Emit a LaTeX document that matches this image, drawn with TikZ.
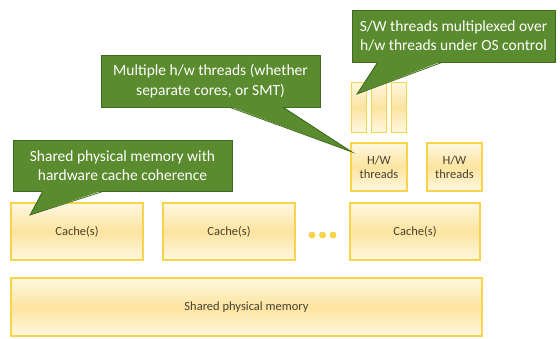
\documentclass[tikz,border=0pt]{standalone}
\usepackage{fontspec}
\setmainfont{Carlito}
\usetikzlibrary{positioning}
\definecolor{boxline}{HTML}{F7D44C}
\definecolor{boxlight}{HTML}{FFF8E0}
\definecolor{boxdark}{HTML}{FCE4A0}
\definecolor{boxtext}{HTML}{4A4232}
\definecolor{calloutfill}{HTML}{5A8B2E}
\definecolor{calloutline}{HTML}{3F6B1E}

\begin{document}
\begin{tikzpicture}[
            x=1pt, y=-1pt,
            box/.style={draw=boxline, line width=1.2pt, top color=boxlight, bottom color=boxlight, middle color=boxdark, text=boxtext, align=center, inner sep=0pt, font=\fontsize{12.5}{14.5}\selectfont},
            callout/.style={fill=calloutfill, draw=calloutline, line width=0.8pt, text=white, align=center, inner sep=0pt, font=\fontsize{15.5}{19.5}\selectfont},
            pointer/.style={fill=calloutfill},
            pointer edge/.style={draw=calloutline, line width=0.8pt},
            dot/.style={circle, fill=boxline, inner sep=0pt, minimum size=7pt},
        ]
        \useasboundingbox (0,0) rectangle (560,338);
        % memory and caches
        \node[box, minimum width=471, minimum height=58] (mem) at (246.5,307) {Shared physical memory};
        \node[box, minimum width=132, minimum height=57] (cache1) at (77,231.5) {Cache(s)};
        \node[box, minimum width=132, minimum height=57] (cache2) at (229,231.5) {Cache(s)};
        \node[box, minimum width=130, minimum height=57] (cache3) at (415,231.5) {Cache(s)};
        \foreach \x [count=\i] in {312,322.5,333} {
            \node[dot] (dot\i) at (\x,235) {};
        }
        % hardware threads
        \node[box, minimum width=56, minimum height=48] (hw1) at (379,167) {H/W\\threads};
        \node[box, minimum width=55, minimum height=48] (hw2) at (454.5,167) {H/W\\threads};
        % software threads
        \foreach \x [count=\i] in {358.5,378.5,399} {
            \node[box, line width=1pt, minimum width=15, minimum height=50] (sw\i) at (\x,107) {};
        }
        % callouts
        \node[callout, minimum width=203, minimum height=52] (swnote) at (453.5,36) {S/W threads multiplexed over\\h/w threads under OS control};
        \node[callout, minimum width=219, minimum height=52] (hwnote) at (210.5,81) {Multiple h/w threads (whether\\separate cores, or SMT)};
        \node[callout, minimum width=219, minimum height=51] (memnote) at (122.5,165.5) {Shared physical memory with\\hardware cache coherence};
        \coordinate (swtip) at (357,94);
        \coordinate (hwtip) at (352,152);
        \coordinate (memtip) at (30,215);
        \fill[pointer] ([shift={(26pt,1pt)}]swnote.south west) -- (swtip) -- ([shift={(90pt,1pt)}]swnote.south west) -- cycle;
        \draw[pointer edge] (swnote.south west -| 378,0) -- (swtip) -- (swnote.south west -| 442,0);
        \fill[pointer] ([shift={(129pt,1pt)}]hwnote.south west) -- (hwtip) -- ([shift={(182pt,1pt)}]hwnote.south west) -- cycle;
        \draw[pointer edge] (hwnote.south west -| 230,0) -- (hwtip) -- (hwnote.south west -| 283,0);
        \fill[pointer] ([shift={(30pt,1pt)}]memnote.south west) -- (memtip) -- ([shift={(90pt,1pt)}]memnote.south west) -- cycle;
        \draw[pointer edge] (memnote.south west -| 43,0) -- (memtip) -- (memnote.south west -| 103,0);
\end{tikzpicture}
\end{document}
